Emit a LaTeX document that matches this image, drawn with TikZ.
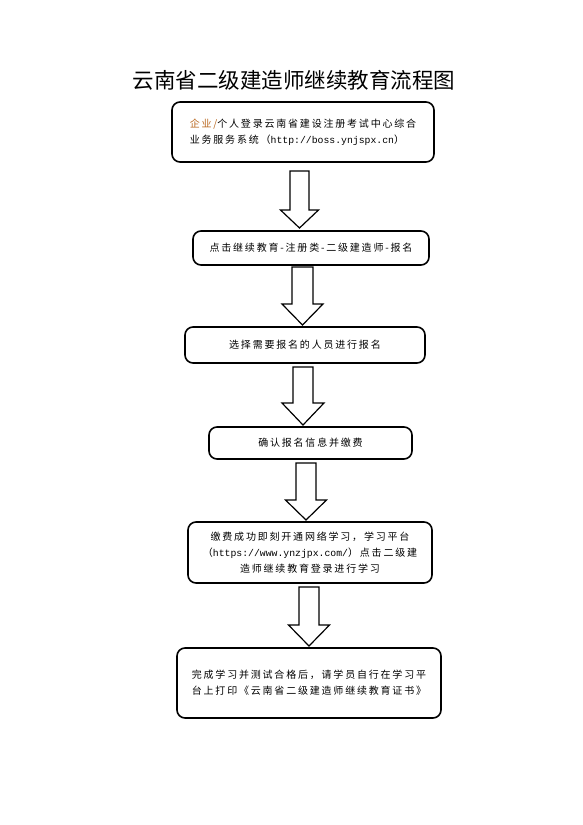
\documentclass[tikz,border=0pt]{standalone}
\usepackage{fontspec}
\newfontfamily\cjk{Noto Sans CJK SC}[LetterSpace=18]
\newfontfamily\cjktitle{Noto Sans CJK SC}
\newfontfamily\lmono{Liberation Mono}
\definecolor{orangetxt}{HTML}{B8651B}
\newcommand{\url}[1]{{\lmono\fontsize{9.8}{16}\selectfont #1}}
\tikzset{
  box/.style={draw=black, line width=1.6pt, rounded corners=8pt, inner sep=0pt,
    font=\cjk\fontsize{10}{16}\selectfont, text=black},
  blockarrow/.style={draw=black, line width=1.2pt, fill=white, line join=miter},
}
% #1 x centre, #2 y top, #3 y head start, #4 y tip, #5 shaft half width, #6 head half width
\newcommand{\blockarr}[6]{%
  \draw[blockarrow] (#1-#5,#2) -- (#1+#5,#2) -- (#1+#5,#3) -- (#1+#6,#3) -- (#1,#4)
    -- (#1-#6,#3) -- (#1-#5,#3) -- cycle;}
\begin{document}
\begin{tikzpicture}[x=1pt,y=-1pt]
\useasboundingbox (0,0) rectangle (583,825);
\fill[white] (0,0) rectangle (583,825);
\node (title) at (294,80) {\cjktitle\fontsize{21.5}{24}\selectfont 云南省二级建造师继续教育流程图};
\node[box, minimum width=262pt, minimum height=60pt, align=left] (b1) at (303,132)
  {{\color{orangetxt}企业/}个人登录云南省建设注册考试中心综合\\业务服务系统（\url{http://boss.ynjspx.cn}）};
\node[box, minimum width=236pt, minimum height=34pt] (b2) at (311,248)
  {点击继续教育-注册类-二级建造师-报名};
\node[box, minimum width=240pt, minimum height=36pt] (b3) at (305,345)
  {选择需要报名的人员进行报名};
\node[box, minimum width=203pt, minimum height=32pt] (b4) at (310.5,443)
  {确认报名信息并缴费};
\node[box, minimum width=244pt, minimum height=61pt, align=center] (b5) at (310,552.5)
  {缴费成功即刻开通网络学习，学习平台\\（\url{https://www.ynzjpx.com/}）点击二级建\\造师继续教育登录进行学习};
\node[box, minimum width=264pt, minimum height=70pt, align=left] (b6) at (309,683)
  {完成学习并测试合格后，请学员自行在学习平\\台上打印《云南省二级建造师继续教育证书》};
\blockarr{299.5}{171}{210}{228}{9.5}{19}
\blockarr{302.5}{267}{304}{325}{10.5}{20.5}
\blockarr{303}{367}{403}{425}{10}{21}
\blockarr{306}{463}{500}{520}{10}{20.5}
\blockarr{309}{587}{625}{646}{10}{20.5}
\end{tikzpicture}
\end{document}
